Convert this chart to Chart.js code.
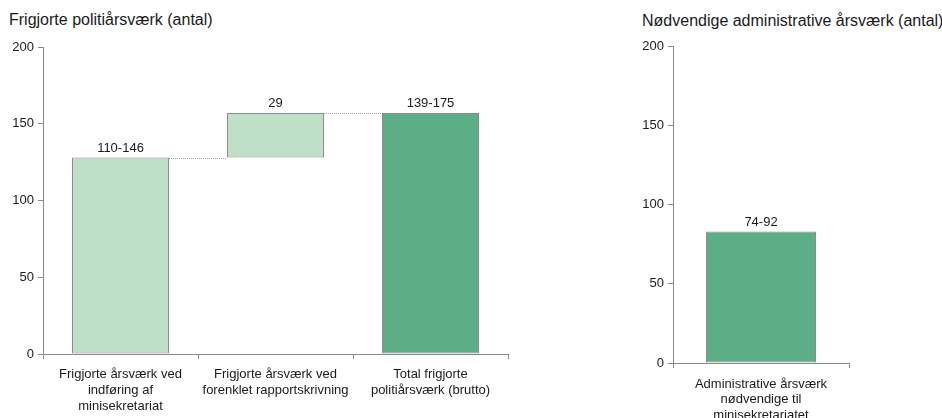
<!DOCTYPE html>
<html>
<head>
<meta charset="utf-8">
<script src="https://cdn.jsdelivr.net/npm/chart.js@4/dist/chart.umd.min.js"></script>
<style>
  html, body { margin: 0; padding: 0; background: #fff; }
  body { width: 942px; height: 418px; position: relative; overflow: hidden; font-family: "Liberation Sans", Arial, sans-serif; }
  .title { position: absolute; font-size: 16px; line-height: 18px; color: #1a1a1a; white-space: nowrap; }
  .panel { position: absolute; top: 0; height: 418px; }
</style>
</head>
<body>
<div class="title" style="left:9px; top:11px;">Frigjorte politiårsværk (antal)</div>
<div class="title" style="left:642px; top:12px;">Nødvendige administrative årsværk (antal)</div>
<div class="panel" style="left:0; width:520px;"><canvas id="freed"></canvas></div>
<div class="panel" style="left:600px; width:342px;"><canvas id="admin"></canvas></div>
<script>
// Waterfall: freed police man-years
const freedCategories = [
  ['Frigjorte årsværk ved', 'indføring af', 'minisekretariat'],
  ['Frigjorte årsværk ved', 'forenklet rapportskrivning'],
  ['Total frigjorte', 'politiårsværk (brutto)']
];
const freedStart = [0, 128, 0];
const freedEnd = [128, 157, 157];
const freedLabels = ['110-146', '29', '139-175'];
const freedIsTotal = [false, false, true];

// Required administrative man-years
const adminCategories = [['Administrative årsværk', 'nødvendige til', 'minisekretariatet']];
const adminValues = [83];
const adminLabels = ['74-92'];

const yTicks = [0, 50, 100, 150, 200];

const LIGHT = '#bfe0c6';
const DARK = '#5bae86';
const EDGE = '#8c8c8c';
const AXIS = '#8a8a8a';
const TEXT = '#1a1a1a';
const FONT = '"Liberation Sans", Arial, sans-serif';

Chart.defaults.font.family = FONT;
Chart.defaults.color = TEXT;

// Value text above each bar
const valueLabelPlugin = {
  id: 'valueLabels',
  afterDatasetsDraw(chart, args, opts) {
    const ctx = chart.ctx;
    const meta = chart.getDatasetMeta(0);
    ctx.save();
    ctx.font = '13px ' + FONT;
    ctx.fillStyle = TEXT;
    ctx.textAlign = 'center';
    ctx.textBaseline = 'bottom';
    meta.data.forEach((bar, i) => {
      ctx.fillText(opts.labels[i], bar.x, bar.y - 3);
    });
    ctx.restore();
  }
};

// Dotted connectors between consecutive waterfall steps
const connectorPlugin = {
  id: 'connectors',
  afterDatasetsDraw(chart, args, opts) {
    if (!opts.levels) return;
    const ctx = chart.ctx;
    const meta = chart.getDatasetMeta(0);
    const y = chart.scales.y;
    ctx.save();
    ctx.strokeStyle = '#a0a0a0';
    ctx.lineWidth = 1;
    ctx.setLineDash([1, 1]);
    for (let i = 0; i < meta.data.length - 1; i++) {
      const a = meta.data[i], b = meta.data[i + 1];
      const py = Math.round(y.getPixelForValue(opts.levels[i])) + 0.5;
      ctx.beginPath();
      ctx.moveTo(a.x + a.width / 2, py);
      ctx.lineTo(b.x - b.width / 2, py);
      ctx.stroke();
    }
    ctx.restore();
  }
};

function axes(yWidth, xHeight, labelPad, lineHeight) {
  return {
    x: {
      grid: { display: true, drawOnChartArea: false, drawTicks: true, tickLength: 5, color: AXIS, offset: true },
      border: { display: true, color: AXIS },
      ticks: { font: { size: 13, lineHeight: lineHeight }, color: TEXT, padding: labelPad, maxRotation: 0, autoSkip: false },
      afterFit(s) { s.height = xHeight; }
    },
    y: {
      min: 0, max: 200,
      afterBuildTicks(s) { s.ticks = yTicks.map(v => ({ value: v })); },
      grid: { display: true, drawOnChartArea: false, drawTicks: true, tickLength: 5, color: AXIS },
      border: { display: true, color: AXIS },
      ticks: { font: { size: 13 }, color: TEXT, padding: 4 },
      afterFit(s) { s.width = yWidth; }
    }
  };
}

const common = {
  responsive: true,
  maintainAspectRatio: false,
  animation: false,
  events: [],
  plugins: { legend: { display: false }, tooltip: { enabled: false }, title: { display: false } }
};

new Chart(document.getElementById('freed'), {
  type: 'bar',
  data: {
    labels: freedCategories,
    datasets: [{
      data: freedStart.map((s, i) => [s, freedEnd[i]]),
      backgroundColor: freedIsTotal.map(t => t ? DARK : LIGHT),
      borderColor: EDGE,
      borderWidth: 1,
      borderSkipped: false,
      categoryPercentage: 1,
      barPercentage: 0.626
    }]
  },
  options: Object.assign({}, common, {
    layout: { padding: { left: 0, right: 12, top: 47, bottom: 0 } },
    scales: axes(43, 64, 7, 1.23),
    plugins: Object.assign({}, common.plugins, {
      valueLabels: { labels: freedLabels },
      connectors: { levels: freedEnd }
    })
  }),
  plugins: [connectorPlugin, valueLabelPlugin]
});

new Chart(document.getElementById('admin'), {
  type: 'bar',
  data: {
    labels: adminCategories,
    datasets: [{
      data: adminValues,
      backgroundColor: DARK,
      borderColor: EDGE,
      borderWidth: 1,
      borderSkipped: false,
      categoryPercentage: 1,
      barPercentage: 0.625
    }]
  },
  options: Object.assign({}, common, {
    layout: { padding: { left: 0, right: 93, top: 46, bottom: 0 } },
    scales: axes(73, 55, 9, 1.17),
    plugins: Object.assign({}, common.plugins, {
      valueLabels: { labels: adminLabels }
    })
  }),
  plugins: [valueLabelPlugin]
});
</script>
</body>
</html>
